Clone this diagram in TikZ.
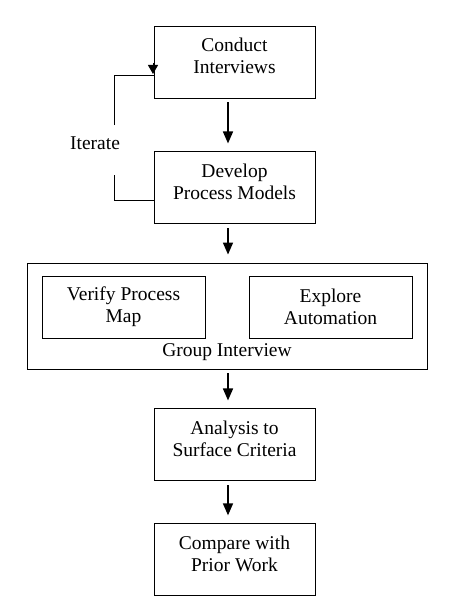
\documentclass[tikz,border=0pt]{standalone}
\usepackage{fontspec}
\setmainfont{Liberation Serif}
\usetikzlibrary{positioning,arrows.meta}

\begin{document}
\begin{tikzpicture}[x=1pt, y=-1pt,
    frame/.style={draw, line width=0.9pt, align=center,
                  font=\fontsize{19.5}{22}\selectfont},
    box/.style={frame, minimum width=161pt, minimum height=72pt, text depth=12pt},
    inbox/.style={frame, minimum width=163pt, minimum height=62pt},
    txt/.style={font=\fontsize{19.5}{22}\selectfont},
    flow/.style={line width=1.6pt, -{Triangle[width=10pt,length=12pt]},
                 shorten >=8pt, shorten <=4pt},
    back/.style={line width=1pt}]
      \useasboundingbox (0,0) rectangle (474,610);

      \node[box]   (CI) at (234.5,62)         {Conduct\\Interviews};
      \node[box]   (DM) [below=53pt of CI]    {Develop\\Process Models};
      \node[frame, minimum width=400pt, minimum height=106pt] (GI) at (227,316) {};
      \node[inbox] (VM) at (123.5,307)        {Verify Process\\Map};
      \node[inbox] (EA) at (330.5,307)        {Explore\\Automation};
      \node[txt]   (GL) at (227,352)          {Group Interview};
      \node[box]   (AC) [below=39pt of GI, xshift=7.5pt] {Analysis to\\Surface Criteria};
      \node[box]   (PW) [below=42pt of AC]    {Compare with\\Prior Work};
      \node[txt]   (IT) at (95,143)           {Iterate};

      \coordinate (axis) at (228,0);
      \coordinate (itop) at (114,75);
      \coordinate (ibot) at (114,200);

      \path[flow] (CI.south -| axis) edge (DM.north -| axis)
                  (DM.south -| axis) edge (GI.north -| axis)
                  (GI.south -| axis) edge (AC.north -| axis)
                  (AC.south -| axis) edge (PW.north -| axis);

      % iterate loop back to the interviews
      \draw[back] (DM.west |- ibot) -- (ibot) -- (114,175);
      \draw[back] (114,125) -- (itop) -- (CI.west |- itop);
      \draw[back, -{Triangle[width=10pt,length=9pt]}] (153,63) -- (153,74);
\end{tikzpicture}
\end{document}
